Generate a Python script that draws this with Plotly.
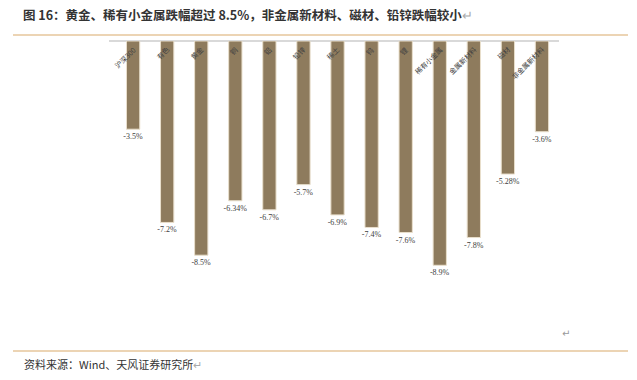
import plotly.graph_objects as go

categories = ["沪深300", "有色", "黄金", "铜", "铝", "铅锌", "稀土", "钨", "锂",
              "稀有小金属", "金属新材料", "磁材", "非金属新材料"]
values = [-3.5, -7.2, -8.5, -6.34, -6.7, -5.7, -6.9, -7.4, -7.6, -8.9, -7.8, -5.28, -3.6]
labels = ["-3.5%", "-7.2%", "-8.5%", "-6.34%", "-6.7%", "-5.7%", "-6.9%", "-7.4%",
          "-7.6%", "-8.9%", "-7.8%", "-5.28%", "-3.6%"]

title_text = "图 16：黄金、稀有小金属跌幅超过 8.5%，非金属新材料、磁材、铅锌跌幅较小"
source_text = "资料来源：Wind、天风证券研究所"

W, H = 637, 380
L, R, T, B = 109, 78, 41, 87
PW, PH = W - L - R, H - T - B


def px(x):
    return (x - L) / PW


def py(y):
    return 1 - (y - T) / PH


fig = go.Figure()
fig.add_trace(go.Bar(
    x=categories, y=values, text=labels, textposition="outside", constraintext="none",
    textfont=dict(family="Liberation Serif", size=8, color="#404040"),
    marker=dict(color="#8E7B5D", line=dict(color="#E9DFCC", width=1)),
    cliponaxis=False, hoverinfo="skip",
))

annotations = []
for c in categories:
    annotations.append(dict(
        x=c, y=0, xref="x", yref="y", text=c, showarrow=False,
        textangle=-45, xanchor="right", yanchor="top", xshift=7, yshift=-1,
        font=dict(family="Noto Sans CJK SC", size=7, color="#404040"),
    ))

annotations.append(dict(
    x=px(21), y=py(15), xref="paper", yref="paper", xanchor="left", yanchor="middle",
    text="<b>" + title_text + "</b><span style='color:#AAAAAA'>↵</span>", showarrow=False,
    font=dict(family="Noto Sans CJK SC", size=12.5, color="#333333"),
))
annotations.append(dict(
    x=px(22), y=py(364), xref="paper", yref="paper", xanchor="left", yanchor="middle",
    text=source_text + "<span style='color:#AAAAAA'>↵</span>", showarrow=False,
    font=dict(family="Noto Sans CJK SC", size=11, color="#333333"),
))
annotations.append(dict(
    x=px(566), y=py(333), xref="paper", yref="paper", xanchor="center", yanchor="middle",
    text="↵", showarrow=False,
    font=dict(family="DejaVu Sans", size=10, color="#999999"),
))

shapes = [
    dict(type="line", xref="paper", yref="paper", x0=px(13), x1=px(628), y0=py(35), y1=py(35),
         line=dict(color="#D9A96A", width=1.2)),
    dict(type="line", xref="paper", yref="paper", x0=px(13), x1=px(628), y0=py(351), y1=py(351),
         line=dict(color="#D9A96A", width=1.2)),
]

fig.update_layout(
    width=W, height=H, margin=dict(l=L, r=R, t=T, b=B),
    plot_bgcolor="white", paper_bgcolor="white",
    bargap=0.61, showlegend=False,
    xaxis=dict(showticklabels=False, showgrid=False, showline=False, ticks="", fixedrange=True),
    yaxis=dict(range=[-10, 0], showticklabels=False, showgrid=False, ticks="",
               zeroline=True, zerolinecolor="#D9D9D9", zerolinewidth=2, fixedrange=True),
    annotations=annotations, shapes=shapes,
)

fig.write_html("out.html", config={"responsive": False, "displayModeBar": False},
               post_script="document.body.style.margin='0px';document.body.style.overflow='hidden';")
